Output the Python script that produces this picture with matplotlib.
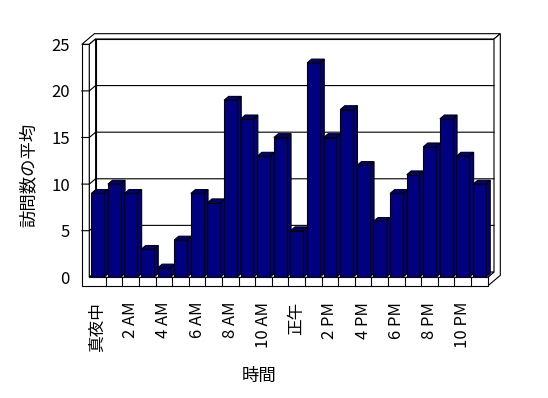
import matplotlib
matplotlib.use('Agg')
import matplotlib.pyplot as plt
from matplotlib.patches import Polygon

plt.rcParams['font.family'] = ['Noto Sans CJK JP', 'DejaVu Sans']

# data
hours = list(range(24))
visits = [9, 10, 9, 3, 1, 4, 9, 8, 19, 17, 13, 15, 5, 23, 15, 18, 12, 6, 9, 11, 14, 17, 13, 10]
tick_pos = list(range(0, 24, 2))
tick_labels = ['真夜中', '2 AM', '4 AM', '6 AM', '8 AM', '10 AM',
               '正午', '2 PM', '4 PM', '6 PM', '8 PM', '10 PM']
y_ticks = [0, 5, 10, 15, 20, 25]

BAR = '#000080'
dx, dy = 0.38, 0.57      # depth of the box in data units
wall = 0.45              # left wall thickness
floor_h = 0.93           # floor slab thickness
bar_w = 0.76
bar_z = 0.72             # bar depth (fraction of box depth)
lw = 0.8

fig = plt.figure(figsize=(5.48, 3.98), dpi=100)
ax = fig.add_axes([89.3 / 548, 1 - 277.3 / 398, 398.4 / 548, 233 / 398])
ax.set_xlim(-0.5, 23.5)
ax.set_ylim(0, 25)
for s in ax.spines.values():
    s.set_visible(False)


def p(x, y, z):
    return (x + z * dx, y + z * dy)


def face(pts, fc='white', z=1):
    ax.add_patch(Polygon(pts, closed=True, facecolor=fc, edgecolor='black',
                         linewidth=lw, zorder=z, clip_on=False))


x0, x1 = -0.5, 23.5
xo = x0 - wall
top = y_ticks[-1]

# walls and floor
face([p(x0, 0, 1), p(x1, 0, 1), p(x1, top, 1), p(x0, top, 1)])
face([p(xo, top, 0), p(x0, top, 0), p(x0, top, 1), p(x1, top, 1),
      p(x1, top, 2), p(xo, top, 2)])
face([p(x1, -floor_h, 0), p(x1, -floor_h, 2), p(x1, top, 2), p(x1, top, 1),
      p(x1, 0, 1), p(x1, 0, 0)])
face([p(xo, -floor_h, 0), p(x1, -floor_h, 0), p(x1, 0, 0), p(x0, 0, 0),
      p(x0, top, 0), p(xo, top, 0)])
face([p(x0, 0, 0), p(x0, 0, 1), p(x0, top, 1), p(x0, top, 0)])
face([p(x0, 0, 0), p(x1, 0, 0), p(x1, 0, 1), p(x0, 0, 1)])

# gridlines on side and back wall
for v in y_ticks[1:-1]:
    pts = [p(xo, v, 0), p(x0, v, 0), p(x0, v, 1), p(x1, v, 1)]
    ax.plot([q[0] for q in pts], [q[1] for q in pts], color='black',
            linewidth=lw, zorder=1.5, clip_on=False)

# category dividers on floor front
for b in hours[:-1]:
    ax.plot([b + 0.5, b + 0.5], [-floor_h, 0], color='black', linewidth=lw,
            zorder=1.5, clip_on=False)

# bars
fronts = ax.bar(hours, visits, width=bar_w, color=BAR, edgecolor='black',
                linewidth=lw)
for i, v in enumerate(visits):
    xl, xr = i - bar_w / 2, i + bar_w / 2
    zz = 2 + i * 0.01
    face([p(xr, 0, 0), p(xr, 0, bar_z), p(xr, v, bar_z), p(xr, v, 0)], BAR, zz)
    face([p(xl, v, 0), p(xr, v, 0), p(xr, v, bar_z), p(xl, v, bar_z)], BAR, zz)
    fronts[i].set_zorder(zz + 0.005)

ax.set_yticks(y_ticks)
ax.set_xticks(tick_pos)
ax.set_xticklabels(tick_labels, rotation=90, va='top')
ax.tick_params(axis='y', length=0, pad=13.9, labelsize=12)
ax.tick_params(axis='x', length=0, pad=17.6, labelsize=12)

fig.text(28.3 / 548, 1 - 175 / 398, '訪問数の平均', rotation=90,
         ha='center', va='center', fontsize=12.5)
fig.text(259 / 548, 1 - 375.5 / 398, '時間', ha='center', va='center',
         fontsize=12.5)

fig.savefig('out.png', dpi=100, facecolor='white')
